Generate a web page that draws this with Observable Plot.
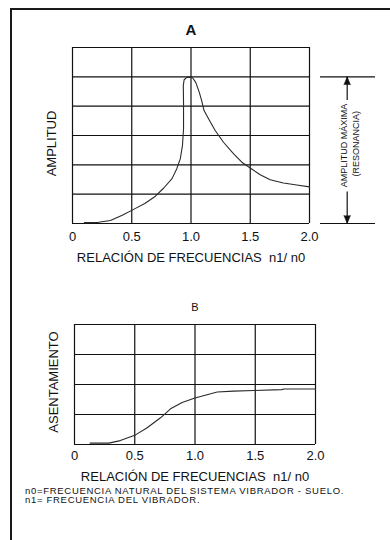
<!DOCTYPE html>
<html>
<head>
<meta charset="utf-8">
<script src="https://cdn.jsdelivr.net/npm/d3@7"></script>
<script src="https://cdn.jsdelivr.net/npm/@observablehq/plot@0.6"></script>
<style>
  html, body { margin: 0; padding: 0; background: #fff; }
  #page { position: relative; width: 390px; height: 540px; overflow: hidden; background: #fff;
          font-family: "Liberation Sans", Arial, sans-serif; color: #111; }
  #frame { position: absolute; left: 10px; top: 8px; width: 420px; height: 560px;
           border-left: 2px solid #1a1a1a; border-top: 2px solid #1a1a1a; }
  .chart { position: absolute; left: 0; }
  .note { position: absolute; left: 25px; font-size: 9.5px; line-height: 9.5px;
          letter-spacing: 0.7px; white-space: nowrap; }
</style>
</head>
<body>
<div id="page">
  <div id="frame"></div>
  <div id="chartA" class="chart" style="top:0px"></div>
  <div id="chartB" class="chart" style="top:280px"></div>
  <div class="note" style="top:485.5px">n0=FRECUENCIA NATURAL DEL SISTEMA VIBRADOR - SUELO.</div>
  <div class="note" style="top:495px">n1= FRECUENCIA DEL VIBRADOR.</div>
</div>
<script>
// ---- Data ----
// Panel A: amplitude vs frequency ratio n1/n0 (units = grid divisions)
const ratioA   = [0.10, 0.22, 0.32, 0.42, 0.52, 0.61, 0.70, 0.77, 0.84, 0.88, 0.91, 0.928, 0.937, 0.937, 0.935, 0.942, 0.965, 0.993, 1.013, 1.04, 1.07, 1.09, 1.11, 1.148, 1.204, 1.274, 1.358, 1.429, 1.50, 1.584, 1.668, 1.78, 1.893, 2.0];
const amplitud = [0.03, 0.04, 0.10, 0.28, 0.49, 0.68, 0.93, 1.21, 1.53, 1.87, 2.21, 2.66,  3.23,  4.13,  4.70,  4.90,  4.98,  4.99,  4.97, 4.81, 4.47, 4.19, 3.85, 3.57,  3.17,  2.77,  2.38,  2.09,  1.89, 1.66,  1.49,  1.38, 1.31,  1.25];
// Panel B: settlement vs frequency ratio
const ratioB       = [0.13, 0.285, 0.38, 0.506, 0.60, 0.714, 0.797, 0.893, 1.0, 1.10, 1.184, 1.32, 1.49, 1.72, 1.74, 2.0];
const asentamiento = [0.045, 0.045, 0.13, 0.32, 0.55, 0.89, 1.19, 1.40, 1.55, 1.66, 1.75, 1.78, 1.80, 1.83, 1.85, 1.85];
// Axis ticks and labels
const xTicks = [0, 0.5, 1, 1.5, 2];
const xTickLabels = ["0", "0.5", "1.0", "1.5", "2.0"];
const gridA = [0, 1, 2, 3, 4, 5, 6];
const gridB = [0, 1, 2, 3, 4];
// Resonance bracket (panel A): levels and horizontal placement in ratio units
const bracketLevels = [0, 5];
const bracketSpan = [2.093, 2.557];
const bracketArrowX = 2.318;
const bracketGapLevels = [1.07, 4.19];

const FONT = '"Liberation Sans", Arial, sans-serif';
const INK = "#111";
const fmt = d => xTickLabels[xTicks.indexOf(d)];

const dataA = ratioA.map((r, i) => ({r, v: amplitud[i]}));
const dataB = ratioB.map((r, i) => ({r, v: asentamiento[i]}));

const chartA = Plot.plot({
  width: 390, height: 270,
  marginLeft: 72, marginRight: 81, marginTop: 47, marginBottom: 47,
  x: {domain: [0, 2]},
  y: {domain: [0, 6], axis: null},
  style: {fontFamily: FONT, fontSize: "13px", color: INK, background: "transparent", overflow: "visible"},
  marks: [
    Plot.ruleY(gridA, {stroke: INK, strokeWidth: 1.2}),
    Plot.ruleX(xTicks, {stroke: INK, strokeWidth: 1.2}),
    Plot.line(dataA, {x: "r", y: "v", stroke: "#2a2a2a", strokeWidth: 1.1, clip: false}),
    Plot.axisX(xTicks, {tickSize: 0, tickPadding: 8, tickFormat: fmt, label: null, fill: INK}),
    Plot.text(["RELACIÓN DE FRECUENCIAS  n1/ n0"], {frameAnchor: "bottom", lineAnchor: "middle", textAnchor: "middle", dy: 34, fontSize: 13, fill: INK}),
    Plot.text(["AMPLITUD"], {frameAnchor: "left", textAnchor: "middle", lineAnchor: "middle", dx: -21, dy: 8, rotate: -90, fontSize: 13, fill: INK, style: "letter-spacing:0.8px"}),
    Plot.text(["A"], {frameAnchor: "top", lineAnchor: "middle", textAnchor: "middle", dy: -17.5, fontSize: 15, fontWeight: "bold", fill: INK}),
    // resonance bracket
    Plot.ruleY(bracketLevels, {x1: bracketSpan[0], x2: bracketSpan[1], stroke: INK, strokeWidth: 1.2}),
    Plot.ruleX([bracketArrowX], {y1: bracketLevels[1], y2: bracketGapLevels[1], stroke: INK, strokeWidth: 1.2}),
    Plot.ruleX([bracketArrowX], {y1: bracketLevels[0], y2: bracketGapLevels[0], stroke: INK, strokeWidth: 1.2}),
    Plot.vector([bracketLevels[1]], {x: bracketArrowX, y: d => d, rotate: 0, length: 8, r: 3.3, shape: "spike", anchor: "end", fill: INK, stroke: INK, strokeWidth: 0.5}),
    Plot.vector([bracketLevels[0]], {x: bracketArrowX, y: d => d, rotate: 180, length: 8, r: 3.3, shape: "spike", anchor: "end", fill: INK, stroke: INK, strokeWidth: 0.5}),
    Plot.text(["AMPLITUD MÁXIMA"], {x: 2.294, y: 2.66, rotate: -90, fontSize: 9, fill: INK}),
    Plot.text(["(RESONANCIA)"], {x: 2.397, y: 2.72, rotate: -90, fontSize: 9, fill: INK})
  ]
});
document.getElementById("chartA").append(chartA);

const chartB = Plot.plot({
  width: 390, height: 200,
  marginLeft: 74, marginRight: 75, marginTop: 44, marginBottom: 36,
  x: {domain: [0, 2]},
  y: {domain: [0, 4], axis: null},
  style: {fontFamily: FONT, fontSize: "13px", color: INK, background: "transparent", overflow: "visible"},
  marks: [
    Plot.ruleY(gridB, {stroke: INK, strokeWidth: 1.2}),
    Plot.ruleX(xTicks, {stroke: INK, strokeWidth: 1.2}),
    Plot.line(dataB, {x: "r", y: "v", stroke: "#2a2a2a", strokeWidth: 1.1}),
    Plot.axisX(xTicks, {tickSize: 0, tickPadding: 6, tickFormat: fmt, label: null, fill: INK}),
    Plot.text(["RELACIÓN DE FRECUENCIAS  n1/ n0"], {frameAnchor: "bottom", lineAnchor: "middle", textAnchor: "middle", dy: 32.5, fontSize: 13, fill: INK}),
    Plot.text(["ASENTAMIENTO"], {frameAnchor: "left", textAnchor: "middle", lineAnchor: "middle", dx: -20.5, dy: -2.5, rotate: -90, fontSize: 13, fill: INK}),
    Plot.text(["B"], {frameAnchor: "top", lineAnchor: "middle", textAnchor: "middle", dy: -17.5, fontSize: 11, fill: INK})
  ]
});
document.getElementById("chartB").append(chartB);
</script>
</body>
</html>
